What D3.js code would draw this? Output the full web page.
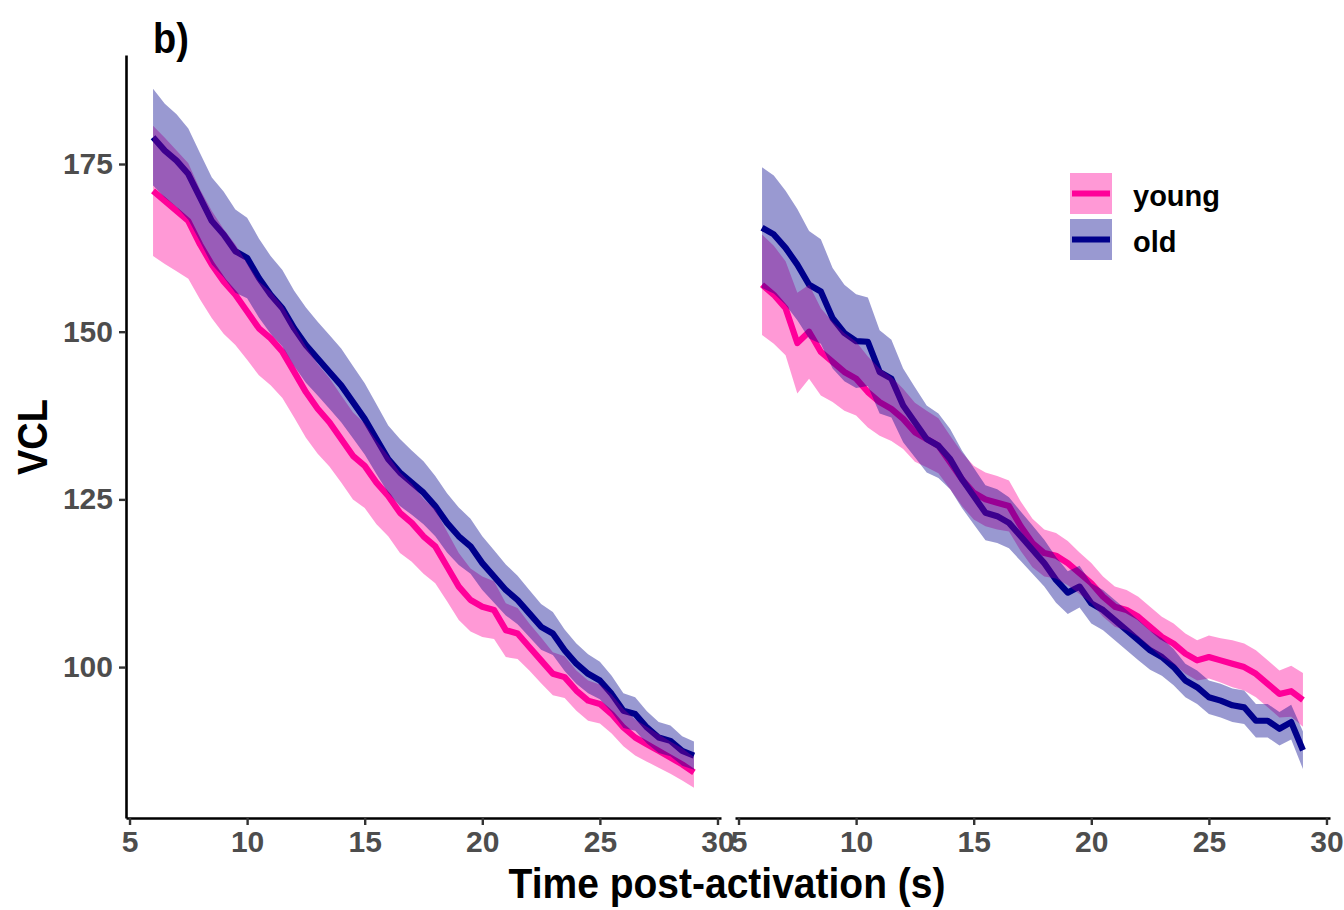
<!DOCTYPE html>
<meta charset="utf-8">
<script src="https://d3js.org/d3.v7.min.js"></script>
<style>
  body { margin: 0; background: #fff; }
  text { font-family: "Liberation Sans", Arial, sans-serif; font-weight: bold; }
</style>
<svg id="chart" width="1344" height="910"></svg>
<script>

// time points (s), shared by both panels
const time = d3.range(6, 29.01, 0.5);

// left panel
const youngL = [171, 169.5, 168, 166.5, 163, 160, 157.5, 155.5, 153, 150.5, 149, 147, 144, 141, 138.5, 136.5,
  134, 131.5, 130, 127.5, 125.5, 123, 121.5, 119.5, 118, 115, 112, 110, 109, 108.5, 105.5, 105,
  103, 101, 99, 98.5, 96.5, 95, 94.5, 93, 91, 89.5, 88.5, 87.5, 86.5, 85.5, 84.3];
const youngLci = [9.7, 9.4, 9, 8.6, 8.2, 8, 7.8, 7.5, 7.2, 7, 7, 6.9, 6.8, 6.8, 6.7, 6.6,
  6.5, 6.5, 6.3, 6.2, 6, 6, 5.8, 5.6, 5.5, 5.2, 5, 4.7, 4.5, 4.3, 4, 3.8,
  3.5, 3.4, 3.2, 3.1, 3, 3, 2.9, 2.9, 2.8, 2.7, 2.6, 2.5, 2.4, 2.4, 2.3];
const oldL = [179, 177, 175.5, 173.5, 170, 166.5, 164.5, 162, 161, 158, 155.5, 153.5, 150.5, 148, 146, 144,
  142, 139.5, 137, 134, 131, 129, 127.5, 126, 124, 121.5, 119.5, 118, 115.5, 113.5, 111.5, 110,
  108, 106, 105, 102.5, 100.5, 99, 98, 96, 93.5, 93, 91, 89.5, 89, 87.5, 86.8];
const oldLci = [7.2, 7, 6.9, 6.8, 6.6, 6.5, 6.4, 6.2, 6, 5.9, 5.8, 5.7, 5.6, 5.6, 5.5, 5.5,
  5.5, 5.4, 5.3, 5.2, 5, 5, 4.8, 4.7, 4.5, 4.4, 4.3, 4.1, 4, 3.9, 3.8, 3.6,
  3.5, 3.4, 3.2, 3.1, 3, 2.9, 2.8, 2.7, 2.6, 2.5, 2.4, 2.3, 2.3, 2.2, 2.1];

// right panel
const youngR = [157, 155.5, 153.5, 148.3, 150, 147, 145.5, 144, 143, 141, 139.5, 138.5, 137, 135, 134, 133,
  130.5, 128, 126, 125, 124.5, 124, 121, 118.5, 117, 116.6, 115.5, 114, 112.5, 110.5, 109, 108.5,
  107.5, 106, 104.5, 103.5, 102, 101, 101.5, 101, 100.5, 100, 99, 97.5, 96, 96.4, 95.1];
const youngRci = [7.5, 7.3, 7, 7.5, 7, 6.5, 6, 5.8, 5.5, 5.3, 5, 4.8, 4.5, 4.4, 4.2, 4.1,
  4, 4, 4, 4, 4, 3.8, 3.7, 3.6, 3.5, 3.4, 3.3, 3.1, 3, 3, 3, 3,
  3, 3, 3, 3, 3, 3, 3.2, 3.3, 3.5, 3.5, 3.5, 3.5, 3.5, 3.8, 4];
const oldR = [165.5, 164.5, 162.5, 160, 157, 156, 152, 149.8, 148.6, 148.5, 144, 143, 139, 136.5, 134, 133,
  131, 128, 125.5, 123, 122.5, 121.5, 119.5, 117.5, 115.5, 113, 111.1, 112, 109.5, 108.5, 107, 105.5,
  104, 102.5, 101.5, 100, 98, 97, 95.5, 95, 94.3, 94, 92, 92, 90.8, 91.8, 87.6];
const oldRci = [9, 8.8, 8.5, 8.3, 8, 7.8, 7.5, 7.2, 7, 6.6, 6.2, 5.8, 5.5, 5.2, 5, 4.8,
  4.5, 4.3, 4.2, 4.1, 4, 3.8, 3.7, 3.6, 3.5, 3.4, 3.2, 3.1, 3, 3, 3, 3,
  3, 2.9, 2.8, 2.7, 2.5, 2.5, 2.5, 2.5, 2.5, 2.5, 2.5, 2.5, 2.5, 2.6, 2.8];

const groups = ["young", "old"];
const colors = { young: "#FF0099", old: "#00008B" };
const xTicks = [5, 10, 15, 20, 25, 30];
const yTicks = [100, 125, 150, 175];

const panels = [
  { x0: 126, x1: 721, series: { young: [youngL, youngLci], old: [oldL, oldLci] } },
  { x0: 735, x1: 1330, series: { young: [youngR, youngRci], old: [oldR, oldRci] } }
];

const svg = d3.select("#chart");
const plotTop = 55, plotBottom = 818;

const y = d3.scaleLinear().domain([77.5, 191.25]).range([plotBottom, plotTop]);

panels.forEach(function(p, i) {
  const x = d3.scaleLinear().domain([4.85, 30.15]).range([p.x0, p.x1]);
  const g = svg.append("g");

  const rows = {};
  groups.forEach(function(k) {
    const [m, ci] = p.series[k];
    rows[k] = time.map((t, j) => ({ t: t, m: m[j], lo: m[j] - ci[j], hi: m[j] + ci[j] }));
  });

  // lines first, ribbons on top (as in the original)
  groups.forEach(function(k) {
    g.append("path")
      .datum(rows[k])
      .attr("fill", "none")
      .attr("stroke", colors[k])
      .attr("stroke-width", 6.2)
      .attr("stroke-linejoin", "round")
      .attr("d", d3.line().x(d => x(d.t)).y(d => y(d.m)));
  });
  groups.forEach(function(k) {
    g.append("path")
      .datum(rows[k])
      .attr("fill", colors[k])
      .attr("fill-opacity", 0.4)
      .attr("d", d3.area().x(d => x(d.t)).y0(d => y(d.lo)).y1(d => y(d.hi)));
  });

  // x axis
  const ax = svg.append("g")
    .attr("transform", `translate(0,${plotBottom})`)
    .call(d3.axisBottom(x).tickValues(xTicks).tickSize(7).tickSizeOuter(0).tickPadding(6));
  ax.select(".domain").attr("stroke", "#000").attr("stroke-width", 2.6);
  ax.selectAll(".tick line").attr("stroke", "#333").attr("stroke-width", 2.4);
  ax.selectAll(".tick text").attr("fill", "#4D4D4D").style("font-size", "30px")
    .style("font-family", "'Liberation Sans', Arial, sans-serif").style("font-weight", "bold");

  if (i === 0) {
    const ay = svg.append("g")
      .attr("transform", `translate(${p.x0},0)`)
      .call(d3.axisLeft(y).tickValues(yTicks).tickSize(7).tickSizeOuter(0).tickPadding(6));
    ay.select(".domain").attr("stroke", "#000").attr("stroke-width", 2.6);
    ay.selectAll(".tick line").attr("stroke", "#333").attr("stroke-width", 2.4);
    ay.selectAll(".tick text").attr("fill", "#4D4D4D").style("font-size", "30px")
      .style("font-family", "'Liberation Sans', Arial, sans-serif").style("font-weight", "bold");
  }
});

// axis titles (slightly taller glyphs, like the original export)
svg.append("text")
  .attr("transform", "translate(727,898) scale(1,1.1)")
  .attr("text-anchor", "middle")
  .style("font-size", "39px")
  .text("Time post-activation (s)");

svg.append("text")
  .attr("transform", "translate(47,437) rotate(-90) scale(1,1.1)")
  .attr("text-anchor", "middle")
  .style("font-size", "38px")
  .text("VCL");

// panel tag
svg.append("text")
  .attr("transform", "translate(153,53) scale(1,1.1)")
  .style("font-size", "38px")
  .text("b)");

// legend
const leg = svg.append("g").attr("transform", "translate(1070,173)");
groups.forEach(function(k, i) {
  const r = leg.append("g").attr("transform", `translate(0,${i * 46})`);
  r.append("rect").attr("width", 42).attr("height", 41)
    .attr("fill", colors[k]).attr("fill-opacity", 0.4);
  r.append("line").attr("x1", 2).attr("x2", 40).attr("y1", 20.5).attr("y2", 20.5)
    .attr("stroke", colors[k]).attr("stroke-width", 6.2);
  r.append("text").attr("x", 63).attr("y", 33)
    .style("font-size", "29px")
    .text(k);
});

</script>
